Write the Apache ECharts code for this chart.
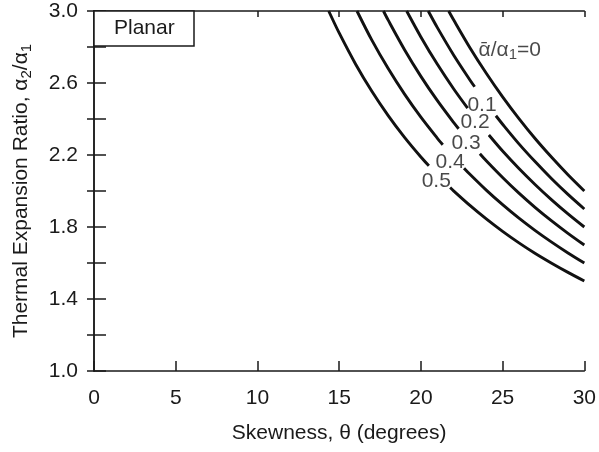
<!DOCTYPE html>
<html>
<head>
<meta charset="utf-8">
<script src="https://cdn.jsdelivr.net/npm/echarts@6/dist/echarts.min.js"></script>
<style>html,body{margin:0;padding:0;background:#fff;}#c{width:599px;height:452px;}</style>
</head>
<body>
<div id="c"></div>
<script>
// ---- data ----
const xTicks = [0, 5, 10, 15, 20, 25, 30];
const yTickLabels = ['1.0', '1.4', '1.8', '2.2', '2.6', '3.0'];

const curveNames = ['0', '0.1', '0.2', '0.3', '0.4', '0.5'];

const theta0 = [21.7, 22, 23, 24, 25, 26, 27, 28, 29, 30];
const ratio0 = [3.0, 2.951, 2.796, 2.654, 2.523, 2.402, 2.290, 2.187, 2.090, 2.000];

const theta1 = [20.45, 21, 22, 23, 23.29, null, 24.59, 25, 26, 27, 28, 29, 30];
const ratio1 = [3.0, 2.909, 2.756, 2.617, 2.579, null, 2.418, 2.371, 2.262, 2.162, 2.068, 1.981, 1.900];

const theta2 = [19.13, 20, 21, 22, 22.86, null, 24.16, 25, 26, 27, 28, 29, 30];
const ratio2 = [3.0, 2.856, 2.705, 2.568, 2.460, null, 2.311, 2.222, 2.125, 2.035, 1.951, 1.873, 1.800];

const theta3 = [17.71, 18, 19, 20, 21, 22, 22.31, null, 23.61, 24, 25, 26, 27, 28, 29, 30];
const ratio3 = [3.0, 2.949, 2.785, 2.637, 2.503, 2.381, 2.346, null, 2.207, 2.168, 2.075, 1.988, 1.908, 1.834, 1.765, 1.700];

const theta4 = [16.09, 17, 18, 19, 20, 21, 21.34, null, 22.64, 23, 24, 25, 26, 27, 28, 29, 30];
const ratio4 = [3.0, 2.838, 2.680, 2.538, 2.410, 2.294, 2.257, null, 2.127, 2.093, 2.005, 1.924, 1.849, 1.780, 1.716, 1.656, 1.600];

const theta5 = [14.36, 15, 16, 17, 18, 19, 20, 20.49, null, 21.79, 22, 23, 24, 25, 26, 27, 28, 29, 30];
const ratio5 = [3.0, 2.878, 2.706, 2.554, 2.419, 2.298, 2.189, 2.140, null, 2.019, 2.001, 1.920, 1.845, 1.776, 1.712, 1.653, 1.599, 1.548, 1.500];

// curve label anchors (data space)
const labelText = ['{a|ᾱ/α}{s|1}{a|=0}', '0.1', '0.2', '0.3', '0.4', '0.5'];
const labelTheta = [25.44, 23.74, 23.31, 22.76, 21.79, 20.94];
const labelRatio = [2.783, 2.478, 2.381, 2.264, 2.158, 2.053];

// ---- chart ----
const FONT = "'Liberation Sans', Arial, Helvetica, sans-serif";
const INK = '#1a1a1a';
const FS = 21;
const thetas = [theta0, theta1, theta2, theta3, theta4, theta5];
const ratios = [ratio0, ratio1, ratio2, ratio3, ratio4, ratio5];

function pairs(t, r) {
  return t.map((v, i) => (v === null || r[i] === null) ? ['-', '-'] : [v, r[i]]);
}

const lineSeries = thetas.map((t, i) => ({
  name: curveNames[i],
  type: 'line',
  data: pairs(t, ratios[i]),
  showSymbol: false,
  symbol: 'none',
  smooth: 0.3,
  connectNulls: false,
  lineStyle: { color: '#111', width: 2.9 },
  silent: true,
  z: 3
}));

const richSub = {
  a: { fontFamily: FONT, fontSize: FS, color: INK, lineHeight: 25, verticalAlign: 'middle' },
  s: { fontFamily: FONT, fontSize: 15, color: INK, lineHeight: 12, verticalAlign: 'bottom' }
};

const labelSeries = {
  type: 'scatter',
  symbolSize: 0,
  silent: true,
  data: labelTheta.map((t, i) => ({ value: [t, labelRatio[i]], name: labelText[i] })),
  label: {
    show: true,
    position: 'inside',
    formatter: p => p.name,
    fontFamily: FONT,
    fontSize: FS,
    color: INK,
    rich: richSub
  },
  z: 4
};

const axisLine = { show: true, lineStyle: { color: INK, width: 1.5 } };
const labelFmtY = v => {
  const k = Math.round((v - 1) / 0.2);
  if (k % 2 !== 0) return '';
  const s = v.toFixed(1);
  return yTickLabels.indexOf(s) >= 0 ? s : '';
};

const option = {
  animation: false,
  backgroundColor: '#fff',
  title: {
    text: 'Planar',
    left: 94, top: 11,
    padding: [6, 20, 6, 20],
    borderColor: INK, borderWidth: 1.5,
    backgroundColor: '#fff',
    textStyle: { fontFamily: FONT, fontSize: FS, fontWeight: 'normal', color: INK, lineHeight: 23 }
  },
  grid: { left: 94, right: 12, top: 11, bottom: 81, containLabel: false },
  xAxis: [{
    type: 'value', min: 0, max: 30, interval: 5, position: 'bottom',
    name: 'Skewness, θ (degrees)', nameLocation: 'middle', nameGap: 52,
    nameTextStyle: { fontFamily: FONT, fontSize: FS, color: INK },
    axisLine: axisLine,
    axisTick: { show: true, inside: true, length: 10, lineStyle: { color: INK, width: 1.5 } },
    axisLabel: { show: true, margin: 17, fontFamily: FONT, fontSize: FS, color: INK,
      formatter: v => xTicks.indexOf(v) >= 0 ? String(v) : '' },
    splitLine: { show: false }
  }, {
    type: 'value', min: 0, max: 30, interval: 5, position: 'top',
    axisLine: axisLine,
    axisTick: { show: true, inside: true, length: 6, lineStyle: { color: INK, width: 1.5 } },
    axisLabel: { show: false },
    splitLine: { show: false }
  }],
  yAxis: [{
    type: 'value', min: 1, max: 3, interval: 0.2, position: 'left',
    name: '{a|Thermal Expansion Ratio, α}{s|2}{a|/α}{s|1}',
    nameLocation: 'middle', nameGap: 60, nameRotate: 90,
    nameTextStyle: { fontFamily: FONT, fontSize: FS, color: INK, rich: richSub },
    axisLine: axisLine,
    axisTick: { show: true, inside: true, length: 12, lineStyle: { color: INK, width: 1.5 } },
    axisLabel: { show: true, margin: 16, fontFamily: FONT, fontSize: FS, color: INK, formatter: labelFmtY },
    splitLine: { show: false }
  }, {
    type: 'value', min: 1, max: 3, interval: 0.2, position: 'right',
    axisLine: axisLine,
    axisTick: { show: true, inside: true, length: 7, lineStyle: { color: INK, width: 1.5 } },
    axisLabel: { show: false },
    splitLine: { show: false }
  }],
  series: lineSeries.concat([labelSeries])
};

const chart = echarts.init(document.getElementById('c'), null, { renderer: 'canvas' });
chart.setOption(option);
</script>
</body>
</html>
